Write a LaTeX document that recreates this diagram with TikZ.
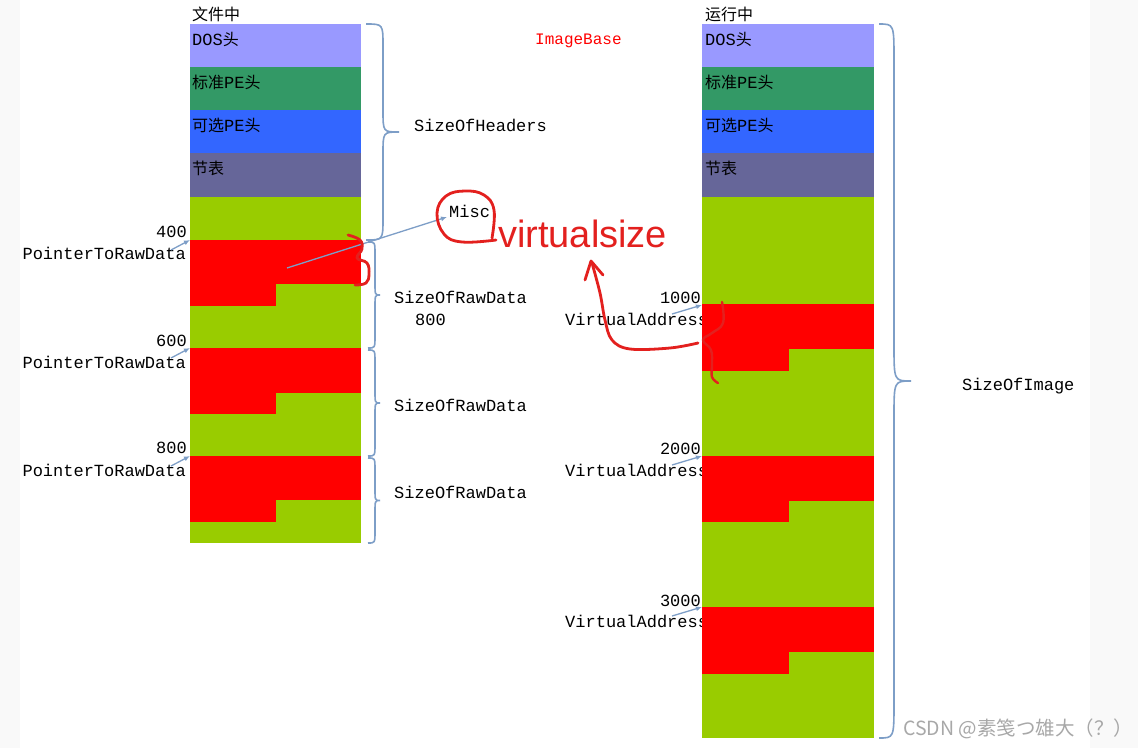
\documentclass[tikz,border=0pt]{standalone}
\usepackage{fontspec}
\setmonofont{Liberation Mono}
\newfontfamily\cjk{Noto Sans CJK SC}
\newfontfamily\handfont{Liberation Sans}
\usetikzlibrary{arrows.meta}
\definecolor{dosc}{HTML}{9999FF}
\definecolor{stdc}{HTML}{339966}
\definecolor{optc}{HTML}{3366FF}
\definecolor{secc}{HTML}{666699}
\definecolor{grn}{HTML}{99CC00}
\definecolor{rd}{HTML}{FF0000}
\definecolor{bracec}{HTML}{7D9EC7}
\definecolor{handred}{HTML}{E3201E}
\definecolor{bggray}{HTML}{F9F9F9}
\definecolor{wmgray}{HTML}{A8A8A8}
\newcommand\zh[1]{{\fontsize{16}{16}\selectfont\cjk #1}}
\newcommand\obrace[6]{% x0, xm, tip, ytop, ybot, r
  \pgfmathsetmacro\obym{(#4+#5)/2}
  \draw[brc] (#1,#4) .. controls (#2,#4) .. (#2,{#4+#6}) -- (#2,{\obym-#6})
    .. controls (#2,\obym) .. (#3,\obym) .. controls (#2,\obym) .. (#2,{\obym+#6})
    -- (#2,{#5-#6}) .. controls (#2,#5) .. (#1,#5);
}
\begin{document}
\begin{tikzpicture}[x=1pt,y=-1pt,
  lbl/.style={font=\fontsize{17}{17}\selectfont\ttfamily, inner sep=0pt, text=black},
  ttl/.style={font=\fontsize{16}{16}\selectfont\cjk, inner sep=0pt},
  ptr/.style={draw=bracec, line width=1.3pt, -{Latex[length=6pt,width=5pt]}},
  brc/.style={draw=bracec, line width=1.6pt},
  hand/.style={draw=handred, line width=2.8pt, line cap=round, line join=round}]
\useasboundingbox (0,0) rectangle (1138,748);
\fill[bggray] (0,0) rectangle (1138,748);
\fill[white] (20,0) rectangle (1090,748);

% ---------- left labels ----------
\node[ttl, anchor=base west] (tfile) at (192,20) {文件中};
\node[lbl, anchor=base east] (n400) at (187,237) {400};
\node[lbl, anchor=base east] (p400) at (186,259) {PointerToRawData};
\node[lbl, anchor=base east] (n600) at (187,346) {600};
\node[lbl, anchor=base east] (p600) at (186,368) {PointerToRawData};
\node[lbl, anchor=base east] (n800) at (187,453) {800};
\node[lbl, anchor=base east] (p800) at (186,476) {PointerToRawData};

% ---------- right labels (under the column) ----------
\node[ttl, anchor=base west] (trun) at (705,20) {运行中};
\node[lbl, anchor=base east] (n1000) at (701,303) {1000};
\node[lbl, anchor=base west] (v1000) at (565,325) {VirtualAddress};
\node[lbl, anchor=base east] (n2000) at (701,454) {2000};
\node[lbl, anchor=base west] (v2000) at (565,476) {VirtualAddress};
\node[lbl, anchor=base east] (n3000) at (701,606) {3000};
\node[lbl, anchor=base west] (v3000) at (565,627) {VirtualAddress};

% ---------- left column ----------
\fill[dosc] (190,24) rectangle (361,67);
\fill[stdc] (190,67) rectangle (361,110);
\fill[optc] (190,110) rectangle (361,153);
\fill[secc] (190,153) rectangle (361,197);
\fill[grn] (190,197) rectangle (361,543);
\fill[rd] (190,240) rectangle (361,284);
\fill[rd] (190,284) rectangle (276,306);
\fill[rd] (190,348) rectangle (361,393);
\fill[rd] (190,393) rectangle (276,414);
\fill[rd] (190,456) rectangle (361,500);
\fill[rd] (190,500) rectangle (276,522);
\node[lbl, anchor=base west] (ldos) at (192,45) {DOS\zh{头}};
\node[lbl, anchor=base west] (lstd) at (192,88) {\zh{标准}PE\zh{头}};
\node[lbl, anchor=base west] (lopt) at (192,131) {\zh{可选}PE\zh{头}};
\node[lbl, anchor=base west] (lsec) at (192,174) {\zh{节表}};

% ---------- right column ----------
\fill[dosc] (702,24) rectangle (874,67);
\fill[stdc] (702,67) rectangle (874,110);
\fill[optc] (702,110) rectangle (874,153);
\fill[secc] (702,153) rectangle (874,197);
\fill[grn] (702,197) rectangle (874,738);
\fill[rd] (702,304) rectangle (874,349);
\fill[rd] (702,349) rectangle (789,371);
\fill[rd] (702,456) rectangle (874,501);
\fill[rd] (702,501) rectangle (789,522);
\fill[rd] (702,607) rectangle (874,652);
\fill[rd] (702,652) rectangle (789,674);
\node[lbl, anchor=base west] (rdos) at (705,45) {DOS\zh{头}};
\node[lbl, anchor=base west] (rstd) at (705,88) {\zh{标准}PE\zh{头}};
\node[lbl, anchor=base west] (ropt) at (705,131) {\zh{可选}PE\zh{头}};
\node[lbl, anchor=base west] (rsec) at (705,174) {\zh{节表}};

% ---------- pointer arrows ----------
\coordinate (s400) at (171,250);  \coordinate (e400) at (190,240);
\coordinate (s600) at (171,358);  \coordinate (e600) at (190,348);
\coordinate (s800) at (171,466);  \coordinate (e800) at (190,456);
\coordinate (s1000) at (672,314); \coordinate (e1000) at (702,305);
\coordinate (s2000) at (672,465); \coordinate (e2000) at (702,456);
\coordinate (s3000) at (672,616); \coordinate (e3000) at (702,607);
\draw[ptr] (s400) -- (e400);
\draw[ptr] (s600) -- (e600);
\draw[ptr] (s800) -- (e800);
\draw[ptr] (s1000) -- (e1000);
\draw[ptr] (s2000) -- (e2000);
\draw[ptr] (s3000) -- (e3000);

% ---------- braces and their labels ----------
\obrace{366}{383}{399}{24}{240}{22}
\obrace{368}{375}{380}{242}{348}{12}
\obrace{368}{375}{380}{350}{456}{12}
\obrace{368}{375}{380}{458}{543}{12}
\obrace{879}{894}{911}{24}{738}{36}
\node[lbl, anchor=base west] (soh) at (414,131) {SizeOfHeaders};
\node[lbl, anchor=base west] (sr1) at (394,303) {SizeOfRawData};
\node[lbl, anchor=base west] (sr1v) at (415,325) {800};
\node[lbl, anchor=base west] (sr2) at (394,411) {SizeOfRawData};
\node[lbl, anchor=base west] (sr3) at (394,498) {SizeOfRawData};
\node[lbl, anchor=base west] (soi) at (962,390) {SizeOfImage};
\node[lbl, anchor=base west, text=rd, font=\fontsize{16}{16}\selectfont\ttfamily] (ib) at (535,44) {ImageBase};

% ---------- Misc ----------
\node[lbl, anchor=base west] (misc) at (449,217) {Misc};
\coordinate (mscs) at (287,268);
\draw[ptr] (mscs) -- ([xshift=-2pt]misc.base west);

% ---------- handwritten annotations ----------
\draw[hand] plot[smooth, tension=0.7] coordinates {(348,235) (360,240) (362,249) (357,258) (367,263) (369,274) (366,283) (355,285)};
\draw[hand] plot[smooth, tension=0.7] coordinates {(492,238) (494,210) (484,195) (465,191) (446,196) (437,213) (444,234) (462,242) (496,240)};
\node[anchor=base west, inner sep=0pt, text=handred, font=\fontsize{38}{38}\selectfont\handfont] (vs) at (498,247) {virtualsize};
\draw[hand] plot[smooth, tension=0.6] coordinates {(698,343) (670,348) (630,349) (612,340) (605,320) (600,293) (592,263)};
\draw[hand] (585,280) -- (591,261) -- (603,275);
\draw[hand, line width=2.4pt] plot[smooth, tension=0.7] coordinates {(722,302) (723,323) (712,333) (703,340) (711,350) (712,365) (712,377) (718,383)};

% ---------- watermark ----------
\node[anchor=base west, inner sep=0pt, text=wmgray, font=\fontsize{19.5}{19.5}\selectfont\cjk] (wm) at (903,735) {CSDN @素笺つ雄大（？）};
\end{tikzpicture}
\end{document}
